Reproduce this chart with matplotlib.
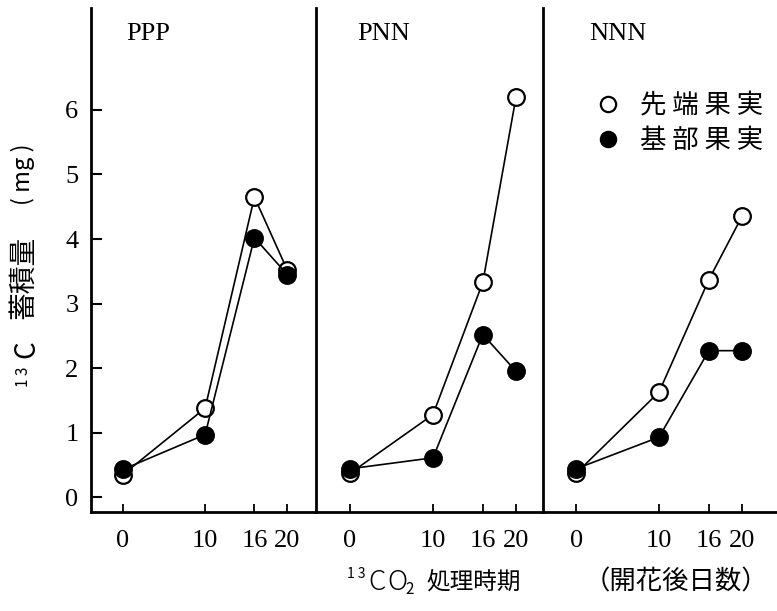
import matplotlib
matplotlib.use("Agg")
import matplotlib.pyplot as plt
from matplotlib.lines import Line2D

# 13CO2 treatment timing (days after flowering)
days = [0, 10, 16, 20]
day_labels = ["0", "10", "16", "20"]
panels = ["PPP", "PNN", "NNN"]

# accumulated 13C (mg) in apical fruit (open) and basal fruit (filled)
apical_ppp = [0.35, 1.38, 4.65, 3.52]
apical_pnn = [0.37, 1.28, 3.33, 6.20]
apical_nnn = [0.37, 1.63, 3.37, 4.35]
basal_ppp = [0.43, 0.97, 4.02, 3.45]
basal_pnn = [0.44, 0.61, 2.52, 1.95]
basal_nnn = [0.44, 0.93, 2.27, 2.27]

apical = [apical_ppp, apical_pnn, apical_nnn]
basal = [basal_ppp, basal_pnn, basal_nnn]
y_ticks = [0, 1, 2, 3, 4, 5, 6]

legend_labels = ["先 端 果 実", "基 部 果 実"]

W, H = 777, 611
fig = plt.figure(figsize=(W / 100, H / 100), dpi=100)
fig.patch.set_facecolor("white")

CJK = ["Noto Sans CJK JP", "DejaVu Sans"]
SERIF = "Liberation Serif"

edges = [91, 316, 543, 776]
top_px, bot_px = 8, 512
xlims = [(-3.9, 23.5), (-4.1, 23.25), (-4.0, 24.1)]
ylim = (-0.23, 7.58)
name_x_px = [126, 357, 589]


def fx(px):
    return px / W


def fy(py):
    return 1 - py / H


axes = []
for i, name in enumerate(panels):
    l, r = edges[i], edges[i + 1]
    ax = fig.add_axes([fx(l), fy(bot_px), (r - l) / W, (bot_px - top_px) / H])
    ax.set_xlim(*xlims[i])
    ax.set_ylim(*ylim)
    for s in ("top", "right"):
        ax.spines[s].set_visible(False)
    for s in ("left", "bottom"):
        ax.spines[s].set_linewidth(2.0)
        ax.spines[s].set_color("black")
    ax.set_xticks(days)
    ax.set_xticklabels(day_labels, fontfamily=SERIF, fontsize=19)
    ax.tick_params(axis="x", direction="in", length=6, width=1.3, pad=13)
    if i == 0:
        ax.set_yticks(y_ticks)
        ax.set_yticklabels([str(t) for t in y_ticks], fontfamily=SERIF, fontsize=19)
        ax.tick_params(axis="y", direction="in", length=8, width=1.5, pad=9)
    else:
        ax.set_yticks([])
    ax.plot(days, apical[i], color="black", lw=1.2, marker="o", ms=12,
            mfc="white", mec="black", mew=1.6, zorder=3)
    ax.plot(days, basal[i], color="black", lw=1.2, marker="o", ms=12,
            mfc="black", mec="black", mew=1.6, zorder=4)
    fig.text(fx(name_x_px[i]), fy(34), name, fontfamily=SERIF, fontsize=19,
             ha="left", va="center")
    axes.append(ax)

handles = [
    Line2D([], [], ls="none", marker="o", ms=11, mfc="white", mec="black", mew=1.6),
    Line2D([], [], ls="none", marker="o", ms=11, mfc="black", mec="black", mew=1.6),
]
axes[2].legend(handles, legend_labels, loc="upper right",
               bbox_to_anchor=(fx(776), fy(79)), bbox_transform=fig.transFigure,
               frameon=False, handlelength=1.0, handletextpad=0.7,
               labelspacing=0.3, borderpad=0, prop={"family": CJK, "size": 19})

# y-axis title, written bottom-to-top: ¹³C 蓄積量 (mg)
ylab_x = fx(23)
fig.text(ylab_x, fy(377), "1 3", rotation=90, ha="center", va="center",
         fontfamily=CJK, fontsize=11)
fig.text(fx(26), fy(349), "C", rotation=90, ha="center", va="center",
         fontfamily=CJK, fontsize=20)
fig.text(ylab_x, fy(277), "蓄積量", rotation=90, ha="center", va="center",
         fontfamily=CJK, fontsize=20)
fig.text(ylab_x, fy(174), "( mg )", rotation=90, ha="center", va="center",
         fontfamily=CJK, fontsize=17)

# x-axis title: ¹³CO₂ 処理時期 (開花後日数)
fig.text(fx(356), fy(574), "1 3", ha="center", va="center",
         fontfamily=CJK, fontsize=10)
fig.text(fx(377), fy(582), "C", ha="center", va="center",
         fontfamily=CJK, fontsize=20, fontweight="light")
fig.text(fx(397), fy(582), "O", ha="center", va="center",
         fontfamily=CJK, fontsize=20, fontweight="light")
fig.text(fx(410), fy(589), "2", ha="center", va="center",
         fontfamily=CJK, fontsize=11)
fig.text(fx(474), fy(582), "処理時期", ha="center", va="center",
         fontfamily=CJK, fontsize=17)
fig.text(fx(768), fy(582), "（開花後日数）", ha="right", va="center",
         fontfamily=CJK, fontsize=19)

fig.savefig("out.png", dpi=100, facecolor="white")
